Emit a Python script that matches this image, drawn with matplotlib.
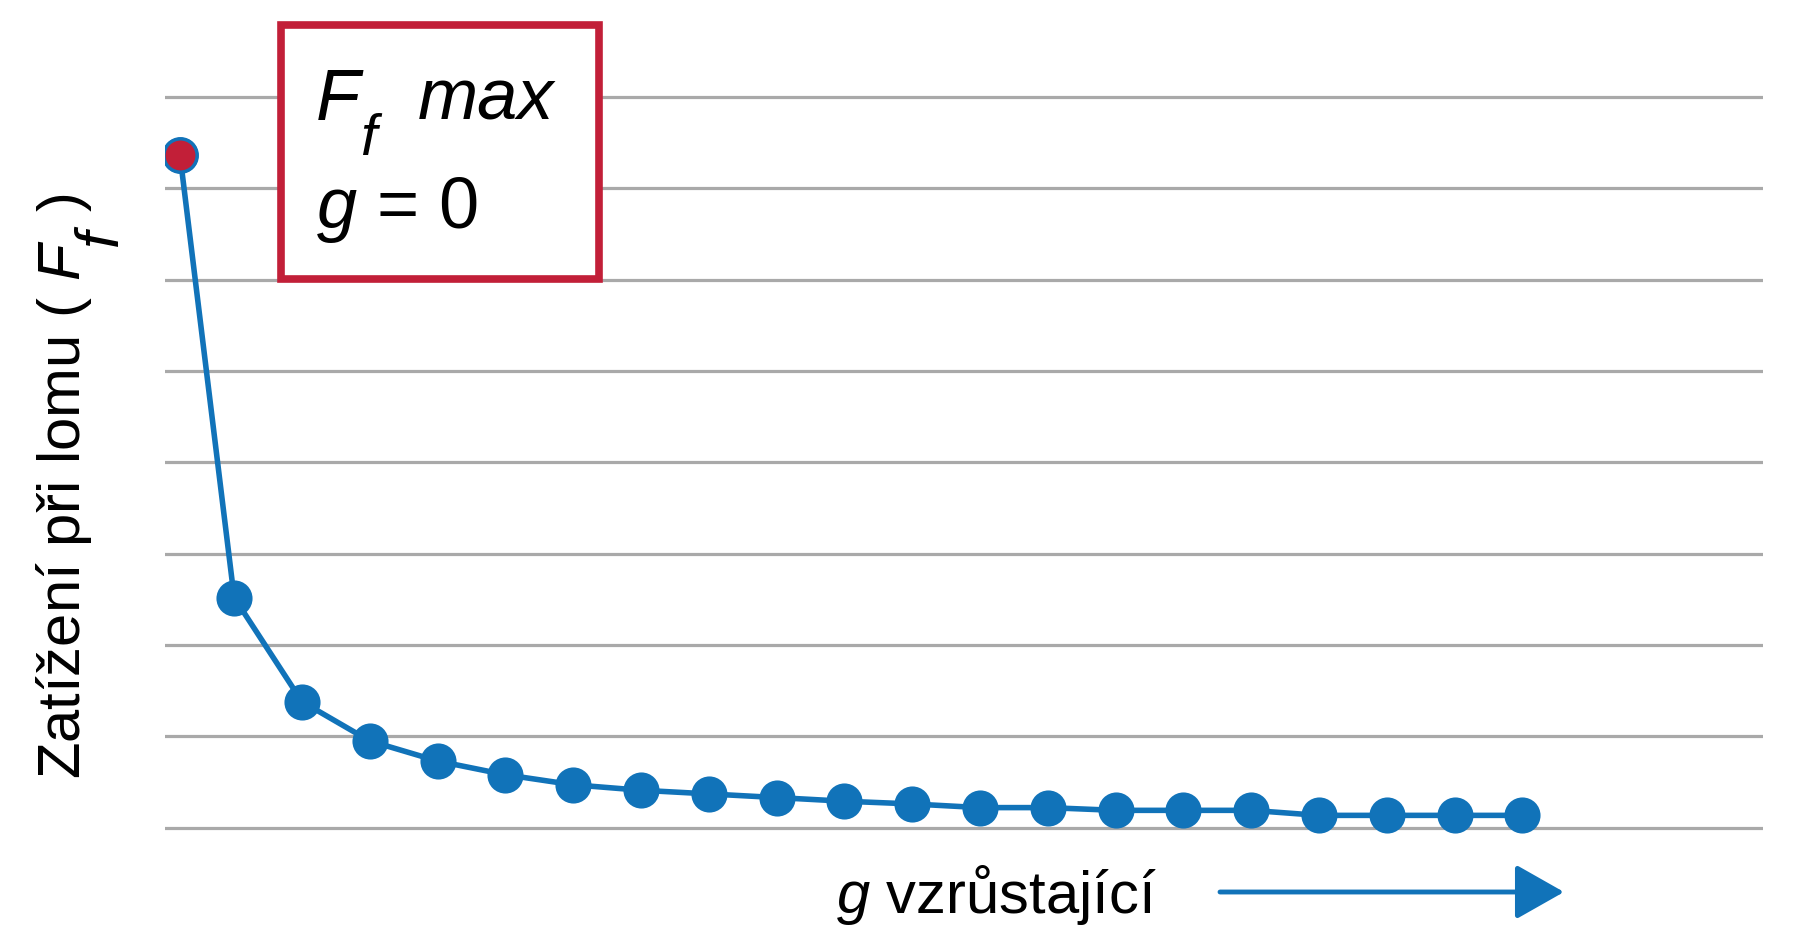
#fracture load vs g - decreasing curve
import matplotlib
matplotlib.use("Agg")
import matplotlib.pyplot as plt
from matplotlib.patches import Rectangle

plt.rcParams['font.family'] = ['Liberation Sans', 'DejaVu Sans']
plt.rcParams['mathtext.fontset'] = 'custom'
plt.rcParams['mathtext.rm'] = 'Liberation Sans'
plt.rcParams['mathtext.it'] = 'Liberation Sans:italic'

#data (y in gridline units)
g = [0, 0.8, 1.8, 2.8, 3.8, 4.8, 5.8, 6.8, 7.8, 8.8, 9.8, 10.8,
     11.8, 12.8, 13.8, 14.8, 15.8, 16.8, 17.8, 18.8, 19.8]
Ff = [7.37, 2.52, 1.38, 0.95, 0.73, 0.58, 0.47, 0.41, 0.37, 0.33, 0.29,
      0.26, 0.22, 0.22, 0.19, 0.19, 0.19, 0.135, 0.135, 0.135, 0.135]
grid_levels = list(range(9))
ylabel = "Zatížení při lomu ( $F$"
xlabel = "$g$ vzrůstající"

blue = '#1173b9'
red = '#c21f38'
gray = '#a9a9a9'

W, H = 1795, 940
def fx(px):
	return px/W
def fy(py):
	return 1-py/H

fig = plt.figure(figsize=(W/100, H/100), dpi=100)
ax = fig.add_axes([fx(165), fy(855.1), (1763-165)/W, (855.1-69.6)/H])

ax.set_xlim(-0.22, 23.35)
ax.set_ylim(-0.3, 8.3)
ax.set_yticks(grid_levels)
ax.set_xticks([])
ax.grid(axis='y', color=gray, lw=2.3)
ax.set_axisbelow(True)
ax.tick_params(left=False, labelleft=False)
for s in ax.spines.values():
	s.set_visible(False)

ax.plot(g, Ff, color=blue, lw=4, marker='o', ms=26, mec=blue, mew=0, zorder=3)
ax.plot(g[0], Ff[0], marker='o', ms=24, mfc=red, mec=blue, mew=2.5, zorder=4)

#box with Ff max, g = 0
box = Rectangle((fx(281), fy(278.5)), (599-281)/W, (278.5-24.5)/H,
	transform=fig.transFigure, facecolor='white', edgecolor=red, lw=5.5, zorder=5)
fig.add_artist(box)
fig.text(fx(316), fy(120), "F", fontsize=52, style='italic', va='baseline', zorder=6)
fig.text(fx(360), fy(155), "f", fontsize=42, style='italic', va='baseline', zorder=6)
fig.text(fx(418), fy(120), "max", fontsize=52, style='italic', va='baseline', zorder=6)
fig.text(fx(316), fy(228), "$g$ = 0", fontsize=52, va='baseline', zorder=6)

#y label, built from pieces so the subscript f stays big
fig.text(fx(80), fy(779), ylabel, fontsize=43, rotation=90, rotation_mode='anchor',
	ha='left', va='baseline')
fig.text(fx(117), fy(246), "f", fontsize=44, style='italic', rotation=90,
	rotation_mode='anchor', ha='left', va='baseline')
fig.text(fx(80), fy(211), ")", fontsize=43, rotation=90, rotation_mode='anchor',
	ha='left', va='baseline')

fig.text(fx(836), fy(913), xlabel, fontsize=43, ha='left', va='baseline')

#arrow
ax.annotate('', xy=(fx(1564), fy(892)), xytext=(fx(1220), fy(892)),
	xycoords='figure fraction', textcoords='figure fraction',
	arrowprops=dict(arrowstyle='-|>,head_length=3.0,head_width=1.7',
		mutation_scale=10, color=blue, lw=3.5, shrinkA=0, shrinkB=0))

plt.savefig('out.png', dpi=100)
